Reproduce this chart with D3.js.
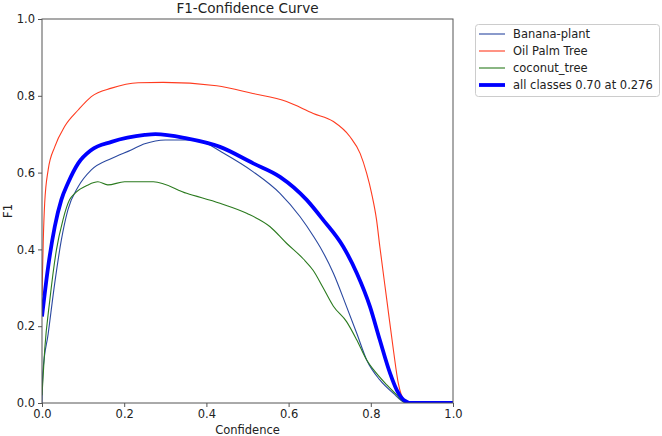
<!DOCTYPE html>
<html>
<head>
<meta charset="utf-8">
<script src="https://cdn.jsdelivr.net/npm/d3@7"></script>
<style>
  body { margin: 0; background: #fff; }
  svg { font-family: "DejaVu Sans", sans-serif; }
</style>
</head>
<body>
<svg id="chart" width="662" height="436"></svg>
<script>
// [confidence, F1]
const banana = [[0,0.0],[0.002,0.078],[0.015,0.18],[0.031,0.312],[0.047,0.424],[0.063,0.503],[0.088,0.563],[0.12,0.607],[0.169,0.637],[0.217,0.659],[0.25,0.675],[0.3,0.685],[0.352,0.685],[0.40,0.676],[0.433,0.656],[0.514,0.602],[0.579,0.546],[0.628,0.485],[0.66,0.435],[0.681,0.398],[0.709,0.338],[0.741,0.251],[0.766,0.181],[0.79,0.112],[0.822,0.06],[0.855,0.025],[0.88,0.003],[0.9,0],[1,0]];
const oilPalm = [[0,0.28],[0.003,0.42],[0.0065,0.52],[0.015,0.607],[0.031,0.667],[0.055,0.72],[0.088,0.763],[0.12,0.798],[0.169,0.82],[0.234,0.834],[0.295,0.835],[0.425,0.826],[0.513,0.806],[0.595,0.785],[0.66,0.754],[0.709,0.733],[0.749,0.694],[0.774,0.65],[0.79,0.598],[0.802,0.546],[0.814,0.477],[0.822,0.407],[0.839,0.268],[0.855,0.138],[0.867,0.051],[0.88,0.01],[0.9,0],[1,0]];
const coconut = [[0,0.02],[0.0065,0.138],[0.019,0.268],[0.035,0.398],[0.051,0.477],[0.067,0.529],[0.08,0.546],[0.112,0.568],[0.136,0.576],[0.16,0.568],[0.201,0.576],[0.271,0.576],[0.352,0.546],[0.433,0.52],[0.498,0.494],[0.555,0.459],[0.595,0.416],[0.636,0.375],[0.66,0.345],[0.684,0.3],[0.709,0.252],[0.741,0.212],[0.766,0.164],[0.79,0.112],[0.814,0.077],[0.839,0.047],[0.863,0.021],[0.88,0.003],[0.9,0],[1,0]];
const allClasses = [[0,0.225],[0.015,0.355],[0.031,0.459],[0.047,0.529],[0.063,0.572],[0.088,0.624],[0.12,0.659],[0.169,0.68],[0.25,0.698],[0.276,0.70],[0.352,0.689],[0.433,0.667],[0.514,0.624],[0.579,0.589],[0.644,0.529],[0.684,0.477],[0.733,0.407],[0.766,0.338],[0.798,0.251],[0.822,0.164],[0.847,0.077],[0.863,0.034],[0.88,0.008],[0.9,0],[1,0]];

const seriesNames = ["Banana-plant", "Oil Palm Tree", "coconut_tree", "all classes 0.70 at 0.276"];
const seriesData = [banana, oilPalm, coconut, allClasses];
const seriesColors = ["#2a48a0", "#ff3b1f", "#2a7a1e", "#0000ff"];
const seriesWidths = [1.1, 1.1, 1.1, 3.8];
const ticks = [0, 0.2, 0.4, 0.6, 0.8, 1.0];

const svg = d3.select("svg");
const plotLeft = 42, plotRight = 453, plotTop = 19, plotBottom = 403;

const x = d3.scaleLinear().domain([0, 1]).range([plotLeft, plotRight]);
const y = d3.scaleLinear().domain([0, 1]).range([plotBottom, plotTop]);

svg.append("defs").append("clipPath").attr("id", "plotclip")
    .append("rect")
    .attr("x", plotLeft).attr("y", plotTop)
    .attr("width", plotRight - plotLeft).attr("height", plotBottom - plotTop);

const line = d3.line()
    .x(d => x(d[0]))
    .y(d => y(d[1]))
    .curve(d3.curveMonotoneX);

const lines = svg.append("g").attr("clip-path", "url(#plotclip)");
seriesData.forEach((data, i) => {
    lines.append("path")
        .datum(data)
        .attr("fill", "none")
        .attr("stroke", seriesColors[i])
        .attr("stroke-width", seriesWidths[i])
        .attr("stroke-linejoin", "round")
        .attr("d", line);
});

// frame
svg.append("rect")
    .attr("x", plotLeft).attr("y", plotTop)
    .attr("width", plotRight - plotLeft).attr("height", plotBottom - plotTop)
    .attr("fill", "none")
    .attr("stroke", "#555")
    .attr("stroke-width", 1);

const xAxis = svg.append("g")
    .attr("transform", `translate(0,${plotBottom})`)
    .call(d3.axisBottom(x).tickValues(ticks).tickFormat(d3.format(".1f")).tickSize(4).tickPadding(3));
const yAxis = svg.append("g")
    .attr("transform", `translate(${plotLeft},0)`)
    .call(d3.axisLeft(y).tickValues(ticks).tickFormat(d3.format(".1f")).tickSize(4).tickPadding(3));

[xAxis, yAxis].forEach(g => {
    g.select(".domain").remove();
    g.selectAll(".tick line").attr("stroke", "#555");
    g.selectAll(".tick text")
        .attr("font-family", "DejaVu Sans, sans-serif")
        .attr("font-size", 11.5)
        .attr("fill", "#222");
});

svg.append("text")
    .attr("x", (plotLeft + plotRight) / 2).attr("y", 13)
    .attr("text-anchor", "middle")
    .attr("font-size", 13.6)
    .attr("fill", "#222")
    .text("F1-Confidence Curve");

svg.append("text")
    .attr("x", (plotLeft + plotRight) / 2).attr("y", 434)
    .attr("text-anchor", "middle")
    .attr("font-size", 11.5)
    .attr("fill", "#222")
    .text("Confidence");

svg.append("text")
    .attr("transform", `translate(12,${(plotTop + plotBottom) / 2}) rotate(-90)`)
    .attr("text-anchor", "middle")
    .attr("font-size", 11.5)
    .attr("fill", "#222")
    .text("F1");

// legend
const legend = svg.append("g");
legend.append("rect")
    .attr("x", 475.5).attr("y", 24.5)
    .attr("width", 184).attr("height", 72)
    .attr("rx", 3)
    .attr("fill", "#fff")
    .attr("stroke", "#ccc");

seriesNames.forEach((name, i) => {
    const cy = 34 + i * 17;
    legend.append("line")
        .attr("x1", 479).attr("x2", 505)
        .attr("y1", cy).attr("y2", cy)
        .attr("stroke", seriesColors[i])
        .attr("stroke-width", seriesWidths[i]);
    legend.append("text")
        .attr("x", 513).attr("y", cy)
        .attr("dy", "0.35em")
        .attr("font-size", 11.5)
        .attr("fill", "#222")
        .text(name);
});
</script>
</body>
</html>
